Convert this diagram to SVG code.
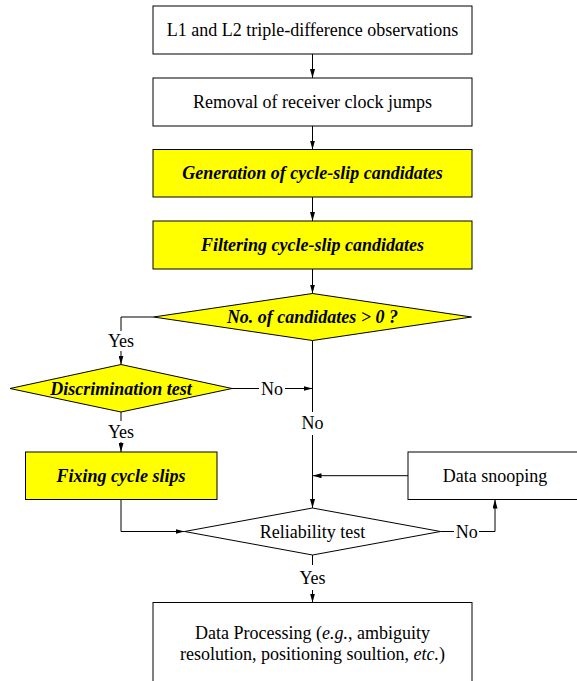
<svg xmlns="http://www.w3.org/2000/svg" width="577" height="681" viewBox="0 0 577 681">
<style>
.box{fill:#fff;stroke:#000;stroke-width:1}
.yel{fill:#ffff00;stroke:#000;stroke-width:1}
.t{font-family:"Liberation Serif","Times New Roman",serif;font-size:18px;fill:#000;text-anchor:middle}
.b{font-weight:bold;font-style:italic}
.ln{fill:none;stroke:#000;stroke-width:1}
</style>
<defs>
<marker id="ah" markerWidth="9" markerHeight="5" refX="9" refY="2.5" orient="auto" markerUnits="userSpaceOnUse">
<path d="M0,0 L9,2.5 L0,5 Z" fill="#000"/>
</marker>
</defs>
<rect width="577" height="681" fill="#fff"/>
<g id="n1"><rect class="box" x="153" y="6" width="319" height="48"/><text class="t" x="312.5" y="36">L1 and L2 triple-difference observations</text></g>
<g id="n2"><rect class="box" x="153" y="78" width="319" height="48"/><text class="t" x="312.5" y="108">Removal of receiver clock jumps</text></g>
<g id="n3"><rect class="yel" x="153" y="149.5" width="319" height="47.5"/><text class="t b" x="312.5" y="179">Generation of cycle-slip candidates</text></g>
<g id="n4"><rect class="yel" x="153" y="221" width="319" height="48"/><text class="t b" x="312.5" y="251">Filtering cycle-slip candidates</text></g>
<g id="d1"><polygon class="yel" points="312.5,293.5 471.5,317 312.5,340.5 153.5,317"/><text class="t b" x="312.5" y="323">No. of candidates &gt; 0 ?</text></g>
<g id="d2"><polygon class="yel" points="121,364.5 232,388.5 121,412 10,388.5"/><text class="t b" x="121" y="394.5">Discrimination test</text></g>
<g id="n5"><rect class="yel" x="25.5" y="452" width="191.5" height="47.5"/><text class="t b" x="121" y="482">Fixing cycle slips</text></g>
<g id="n6"><rect class="box" x="408" y="452" width="170" height="47.5"/><text class="t" x="495" y="482">Data snooping</text></g>
<g id="d3"><polygon class="box" points="312.5,508 440.5,531.5 312.5,555 184.5,531.5"/><text class="t" x="312.5" y="537.5">Reliability test</text></g>
<g id="n7"><rect class="box" x="153" y="602.5" width="319" height="90"/>
<text class="t" x="312.5" y="638.5">Data Processing (<tspan font-style="italic">e.g.</tspan>, ambiguity</text>
<text class="t" x="312.5" y="659.5">resolution, positioning soultion, <tspan font-style="italic">etc.</tspan>)</text></g>
<g id="connectors">
<line class="ln" x1="312.5" y1="54" x2="312.5" y2="78" marker-end="url(#ah)"/>
<line class="ln" x1="312.5" y1="126" x2="312.5" y2="149.5" marker-end="url(#ah)"/>
<line class="ln" x1="312.5" y1="197" x2="312.5" y2="221" marker-end="url(#ah)"/>
<line class="ln" x1="312.5" y1="269" x2="312.5" y2="293.5" marker-end="url(#ah)"/>
<polyline class="ln" points="153.5,317 121,317 121,331"/>
<text class="t" x="121" y="347">Yes</text>
<line class="ln" x1="121" y1="351" x2="121" y2="364.5" marker-end="url(#ah)"/>
<line class="ln" x1="232" y1="388.5" x2="259" y2="388.5"/>
<text class="t" x="272" y="394.5">No</text>
<line class="ln" x1="285" y1="388.5" x2="312.5" y2="388.5" marker-end="url(#ah)"/>
<line class="ln" x1="312.5" y1="340.5" x2="312.5" y2="412"/>
<text class="t" x="312.5" y="429">No</text>
<line class="ln" x1="312.5" y1="435" x2="312.5" y2="508" marker-end="url(#ah)"/>
<line class="ln" x1="408" y1="475.7" x2="312.5" y2="475.7" marker-end="url(#ah)"/>
<line class="ln" x1="121" y1="412" x2="121" y2="421"/>
<text class="t" x="121" y="437.7">Yes</text>
<line class="ln" x1="121" y1="442" x2="121" y2="452" marker-end="url(#ah)"/>
<polyline class="ln" points="121,499.5 121,531.5 184.5,531.5" marker-end="url(#ah)"/>
<line class="ln" x1="440.5" y1="531.5" x2="454" y2="531.5"/>
<text class="t" x="466.7" y="537.5">No</text>
<polyline class="ln" points="479,531.5 495,531.5 495,499.5" marker-end="url(#ah)"/>
<line class="ln" x1="312.5" y1="555" x2="312.5" y2="565"/>
<text class="t" x="312.5" y="584">Yes</text>
<line class="ln" x1="312.5" y1="590" x2="312.5" y2="602.5" marker-end="url(#ah)"/>
</g>
</svg>
